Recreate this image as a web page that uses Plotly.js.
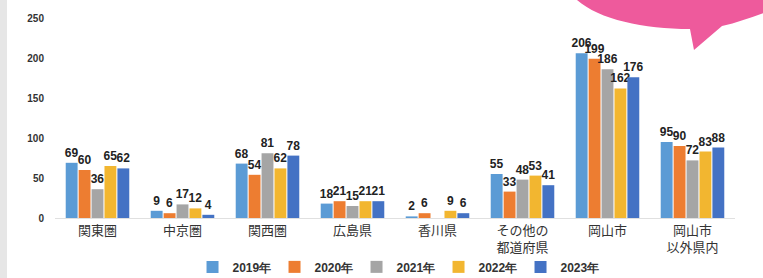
<!DOCTYPE html>
<html><head><meta charset="utf-8">
<script src="https://cdn.plot.ly/plotly-3.0.1.min.js"></script>
<style>html,body{margin:0;padding:0;background:#fff}#c{width:763px;height:278px}</style>
</head><body><div id="c"></div>
<script>
const categories = ["関東圏","中京圏","関西圏","広島県","香川県","その他の<br>都道府県","岡山市","岡山市<br>以外県内"];
const years = ["2019年","2020年","2021年","2022年","2023年"];
const v2019 = [69, 9, 68, 18, 2, 55, 206, 95];
const v2020 = [60, 6, 54, 21, 6, 33, 199, 90];
const v2021 = [36, 17, 81, 15, null, 48, 186, 72];
const v2022 = [65, 12, 62, 21, 9, 53, 162, 83];
const v2023 = [62, 4, 78, 21, 6, 41, 176, 88];
const yTicks = [0, 50, 100, 150, 200, 250];

const series = [v2019, v2020, v2021, v2022, v2023];
const colors = ["#5B9BD5","#ED7D31","#A5A5A5","#F2B630","#4472C4"];
const numFont = "Liberation Sans, Arial, sans-serif";
const jpFont = "Noto Sans CJK JP, sans-serif";

const traces = series.map((vals, i) => ({
  type: "bar", name: years[i], x: categories, y: vals,
  marker: {color: colors[i]},
  text: vals.map(v => v == null ? "" : "<b>" + v + "</b>"),
  textposition: "outside", constraintext: "none", cliponaxis: false,
  textfont: {family: numFont, size: 12, color: "#222"},
  hoverinfo: "skip"
}));

// pixel -> paper helpers for decorations
const L = 55, R = 28, T = 18, B = 60, W = 763, H = 278;
const pw = W - L - R, ph = H - T - B;
const px = x => ((x - L) / pw).toFixed(4);
const py = y => ((H - B - y) / ph).toFixed(4);
const bubble = `M ${px(572)},${py(-5)} C ${px(592)},${py(18)} ${px(640)},${py(29)} ${px(690)},${py(29)} L ${px(694)},${py(50)} L ${px(722)},${py(26)} C ${px(740)},${py(22)} ${px(755)},${py(16)} ${px(775)},${py(9)} L ${px(775)},${py(-5)} Z`;

const layout = {
  width: W, height: H,
  margin: {l: L, r: R, t: T, b: B, autoexpand: false},
  paper_bgcolor: "#fff", plot_bgcolor: "#fff",
  barmode: "group", bargap: 0.24, bargroupgap: 0.08,
  showlegend: true,
  legend: {orientation: "h", x: 0.521, xref: "container", xanchor: "center",
           yref: "container", y: 0.04, yanchor: "middle", bgcolor: "rgba(0,0,0,0)",
           font: {family: numFont, size: 12, color: "#333", weight: "bold"},
           entrywidth: 37, entrywidthmode: "pixels", itemwidth: 30, tracegroupgap: 0},
  xaxis: {tickfont: {family: jpFont, size: 13, color: "#333"}, showline: true,
          linecolor: "#e0e0e0", linewidth: 1, ticks: "", fixedrange: true, automargin: false},
  yaxis: {range: [0, 250], tickvals: yTicks, showgrid: false, zeroline: false,
          tickfont: {family: numFont, size: 10, color: "#333", weight: "bold"},
          ticks: "", fixedrange: true, ticklabelstandoff: 10, automargin: false},
  shapes: [
    {type: "path", xref: "paper", yref: "paper", path: bubble,
     fillcolor: "#EE5A9C", line: {width: 0}, layer: "above"},
    {type: "rect", xref: "paper", yref: "paper", x0: px(0), x1: px(7), y0: py(H), y1: py(0),
     fillcolor: "#E6E6E6", line: {width: 0}, layer: "below"}
  ]
};
Plotly.newPlot("c", traces, layout, {displayModeBar: false, staticPlot: true});
</script></body></html>
